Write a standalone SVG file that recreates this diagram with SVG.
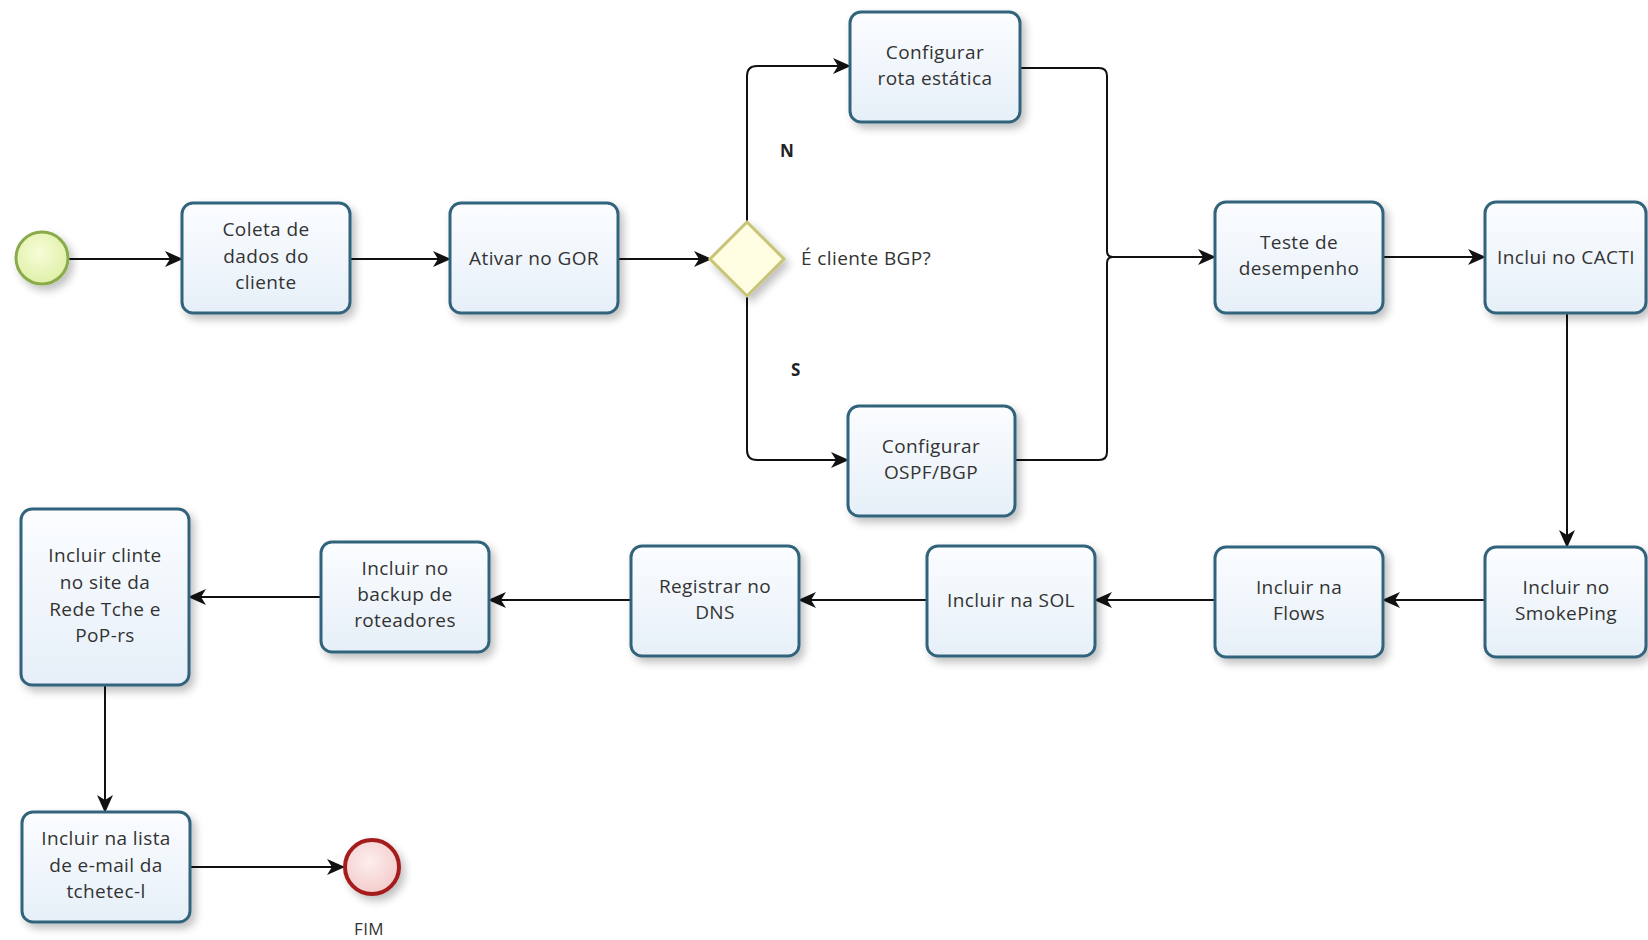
<svg xmlns="http://www.w3.org/2000/svg" width="1648" height="940" viewBox="0 0 1648 940">
<defs>
<linearGradient id="boxfill" x1="0" y1="0" x2="0" y2="1">
<stop offset="0" stop-color="#fbfdff"/>
<stop offset="1" stop-color="#e6eff8"/>
</linearGradient>
<radialGradient id="startfill" cx="0.45" cy="0.4" r="0.6">
<stop offset="0" stop-color="#f7fcd8"/>
<stop offset="1" stop-color="#dff0a8"/>
</radialGradient>
<radialGradient id="endfill" cx="0.45" cy="0.4" r="0.6">
<stop offset="0" stop-color="#fdeeee"/>
<stop offset="1" stop-color="#f4cccc"/>
</radialGradient>
<filter id="shadow" x="-20%" y="-20%" width="150%" height="150%">
<feGaussianBlur in="SourceAlpha" stdDeviation="4"/>
<feOffset dx="4" dy="5" result="b"/>
<feComponentTransfer><feFuncA type="linear" slope="0.25"/></feComponentTransfer>
<feMerge><feMergeNode/><feMergeNode in="SourceGraphic"/></feMerge>
</filter>
<marker id="arr" markerWidth="18" markerHeight="16" refX="17" refY="8" orient="auto" markerUnits="userSpaceOnUse">
<path d="M0,0 L18,8 L0,16 L5,8 z" fill="#111"/>
</marker>
<style>
.box{fill:url(#boxfill);stroke:#33647c;stroke-width:3;filter:url(#shadow)}
.t{font-family:"Open Sans","Noto Sans",sans-serif;font-size:19px;letter-spacing:0.4px;fill:#333;text-anchor:middle}
.lbl{font-family:"Open Sans","Noto Sans",sans-serif;font-size:19px;letter-spacing:0.4px;fill:#333}
.b{font-family:"Open Sans","Noto Sans",sans-serif;font-size:17px;font-weight:bold;fill:#222}
.c{fill:none;stroke:#111;stroke-width:2}
.ca{fill:none;stroke:#111;stroke-width:2;marker-end:url(#arr)}
</style>
</defs>
<rect width="1648" height="940" fill="#ffffff"/>

<g id="connectors">
<path class="ca" d="M69,259 H182"/>
<path class="ca" d="M350,259 H450"/>
<path class="ca" d="M618,259 H711"/>
<path class="ca" d="M747,222 V76 Q747,66 757,66 H850"/>
<path class="ca" d="M747,296 V450 Q747,460 757,460 H848"/>
<path class="c" d="M1020,68 H1099 Q1107,68 1107,76 V251 Q1107,257 1113,257"/>
<path class="c" d="M1015,460 H1099 Q1107,460 1107,452 V263 Q1107,257 1113,257"/>
<path class="ca" d="M1113,257 H1215"/>
<path class="ca" d="M1383,257 H1485"/>
<path class="ca" d="M1567,313 V547"/>
<path class="ca" d="M1485,600 H1383"/>
<path class="ca" d="M1215,600 H1095"/>
<path class="ca" d="M927,600 H799"/>
<path class="ca" d="M631,600 H489"/>
<path class="ca" d="M321,597 H189"/>
<path class="ca" d="M105,685 V812"/>
<path class="ca" d="M190,867 H344"/>
</g>

<g id="start">
<circle cx="42" cy="258" r="26" fill="url(#startfill)" stroke="#8aab4a" stroke-width="3" filter="url(#shadow)"/>
</g>

<g id="coleta">
<rect class="box" x="182" y="203" width="168" height="110" rx="11"/>
<text class="t" x="266" y="236">Coleta de</text>
<text class="t" x="266" y="263">dados do</text>
<text class="t" x="266" y="289">cliente</text>
</g>

<g id="ativar">
<rect class="box" x="450" y="203" width="168" height="110" rx="11"/>
<text class="t" x="534" y="265">Ativar no GOR</text>
</g>

<g id="gateway">
<polygon points="747,222 784,259 747,296 710,259" fill="#fffde2" stroke="#c8c474" stroke-width="3" filter="url(#shadow)"/>
<text class="lbl" x="801" y="265">É cliente BGP?</text>
<text class="b" x="780" y="157">N</text>
<text class="b" x="791" y="376">S</text>
</g>

<g id="rota">
<rect class="box" x="850" y="12" width="170" height="110" rx="11"/>
<text class="t" x="935" y="59">Configurar</text>
<text class="t" x="935" y="85">rota estática</text>
</g>

<g id="ospf">
<rect class="box" x="848" y="406" width="167" height="110" rx="11"/>
<text class="t" x="931" y="453">Configurar</text>
<text class="t" x="931" y="479">OSPF/BGP</text>
</g>

<g id="teste">
<rect class="box" x="1215" y="202" width="168" height="111" rx="11"/>
<text class="t" x="1299" y="249">Teste de</text>
<text class="t" x="1299" y="275">desempenho</text>
</g>

<g id="cacti">
<rect class="box" x="1485" y="202" width="161" height="111" rx="11"/>
<text class="t" x="1566" y="264">Inclui no CACTI</text>
</g>

<g id="smokeping">
<rect class="box" x="1485" y="547" width="161" height="110" rx="11"/>
<text class="t" x="1566" y="594">Incluir no</text>
<text class="t" x="1566" y="620">SmokePing</text>
</g>

<g id="flows">
<rect class="box" x="1215" y="547" width="168" height="110" rx="11"/>
<text class="t" x="1299" y="594">Incluir na</text>
<text class="t" x="1299" y="620">Flows</text>
</g>

<g id="sol">
<rect class="box" x="927" y="546" width="168" height="110" rx="11"/>
<text class="t" x="1011" y="607">Incluir na SOL</text>
</g>

<g id="dns">
<rect class="box" x="631" y="546" width="168" height="110" rx="11"/>
<text class="t" x="715" y="593">Registrar no</text>
<text class="t" x="715" y="619">DNS</text>
</g>

<g id="backup">
<rect class="box" x="321" y="542" width="168" height="110" rx="11"/>
<text class="t" x="405" y="575">Incluir no</text>
<text class="t" x="405" y="601">backup de</text>
<text class="t" x="405" y="627">roteadores</text>
</g>

<g id="site">
<rect class="box" x="21" y="509" width="168" height="176" rx="11"/>
<text class="t" x="105" y="562">Incluir clinte</text>
<text class="t" x="105" y="589">no site da</text>
<text class="t" x="105" y="616">Rede Tche e</text>
<text class="t" x="105" y="642">PoP-rs</text>
</g>

<g id="lista">
<rect class="box" x="22" y="812" width="168" height="110" rx="11"/>
<text class="t" x="106" y="845">Incluir na lista</text>
<text class="t" x="106" y="872">de e-mail da</text>
<text class="t" x="106" y="898">tchetec-l</text>
</g>

<g id="end">
<circle cx="372" cy="867" r="27" fill="url(#endfill)" stroke="#a51d1d" stroke-width="4" filter="url(#shadow)"/>
<text class="t" x="369" y="935" style="font-size:17px">FIM</text>
</g>
</svg>
